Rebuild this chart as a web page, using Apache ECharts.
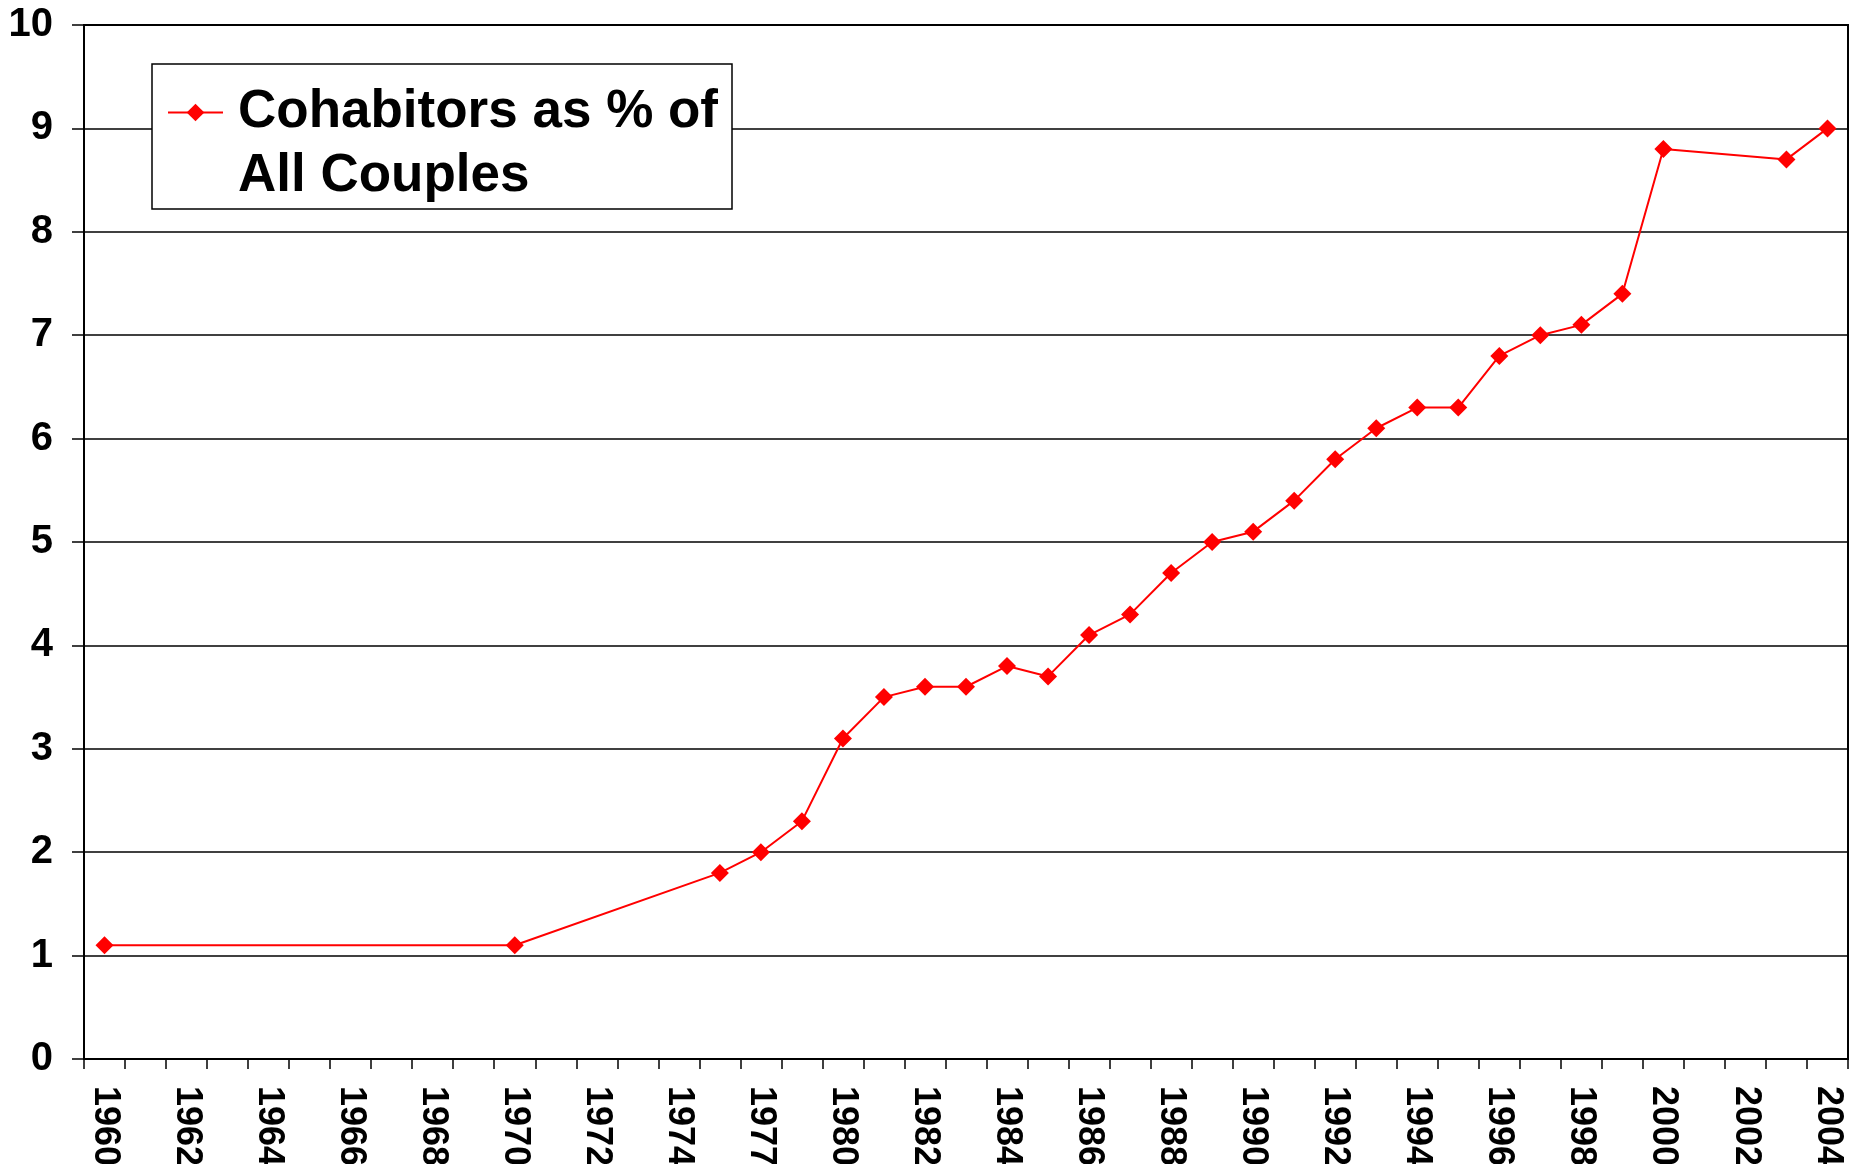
<!DOCTYPE html>
<html>
<head>
<meta charset="utf-8">
<title>Cohabitors as % of All Couples</title>
<script src="https://cdn.jsdelivr.net/npm/echarts@6/dist/echarts.min.js"></script>
<style>
  html, body { margin: 0; padding: 0; background: #fff; }
  #chart { width: 1860px; height: 1164px; }
</style>
</head>
<body>
<div id="chart"></div>
<script>
// categories: every year 1960-1974, then a few gaps in the 70s, then every year to 2004
const years = [
  '1960', '1961', '1962', '1963', '1964', '1965', '1966', '1967', '1968', '1969',
  '1970', '1971', '1972', '1973', '1974', '1976', '1977', '1978', '1980', '1981',
  '1982', '1983', '1984', '1985', '1986', '1987', '1988', '1989', '1990', '1991',
  '1992', '1993', '1994', '1995', '1996', '1997', '1998', '1999', '2000', '2001',
  '2002', '2003', '2004'
]

// percent of couples cohabiting (null = no survey that year)
const cohabitPct = [
  1.1, null, null, null, null, null, null, null, null, null,
  1.1, null, null, null, null, 1.8, 2.0, 2.3, 3.1, 3.5,
  3.6, 3.6, 3.8, 3.7, 4.1, 4.3, 4.7, 5.0, 5.1, 5.4,
  5.8, 6.1, 6.3, 6.3, 6.8, 7.0, 7.1, 7.4, 8.8, null,
  null, 8.7, 9.0
]

const yTicks = [0, 1, 2, 3, 4, 5, 6, 7, 8, 9, 10]
const seriesName = 'Cohabitors as % of All Couples'
const legendLines = ['Cohabitors as % of', 'All Couples']

const fontFamily = '"Liberation Sans", Arial, Helvetica, sans-serif'
const red = '#ff0000'

const chart = echarts.init(document.getElementById('chart'), null, { renderer: 'canvas' })

chart.setOption({
  animation: false,
  backgroundColor: '#fff',
  grid: {
    left: 84,
    right: 12,
    top: 25,
    bottom: 105,
    show: true,
    borderColor: '#000',
    borderWidth: 2,
    outerBoundsMode: 'none',
  },
  legend: {
    left: 152,
    top: 64,
    orient: 'vertical',
    selectedMode: false,
    backgroundColor: '#fff',
    borderColor: '#000',
    borderWidth: 1.5,
    padding: [22, 14, 6, 15],
    itemWidth: 55,
    itemHeight: 22,
    data: [seriesName],
    // rich text + fixed height keeps the icon beside the first line
    formatter: () => legendLines.map((s) => `{t|${s}}`).join('\n'),
    textStyle: {
      height: 64,
      padding: [0, 0, 0, 10],
      rich: {
        t: {
          fontFamily,
          fontSize: 53,
          fontWeight: 'bold',
          color: '#000',
          lineHeight: 64,
        },
      },
    },
  },
  xAxis: {
    type: 'category',
    data: years,
    boundaryGap: true,
    axisLine: { lineStyle: { color: '#000', width: 2 } },
    axisTick: { show: true, interval: 0, length: 10, lineStyle: { color: '#000', width: 1.5 } },
    axisLabel: {
      interval: 1,
      rotate: -90,
      margin: 27,
      fontFamily,
      fontSize: 36,
      fontWeight: 'bold',
      color: '#000',
    },
    splitLine: { show: false },
  },
  yAxis: {
    type: 'value',
    min: yTicks[0],
    max: yTicks[yTicks.length - 1],
    interval: 1,
    axisLine: { show: true, lineStyle: { color: '#000', width: 2 } },
    axisTick: { show: true, length: 12, lineStyle: { color: '#000', width: 1.5 } },
    axisLabel: {
      margin: 31,
      fontFamily,
      fontSize: 40,
      fontWeight: 'bold',
      color: '#000',
    },
    splitLine: { lineStyle: { color: '#000', width: 1.5 } },
  },
  series: [
    {
      type: 'line',
      name: seriesName,
      data: cohabitPct,
      connectNulls: true,
      showAllSymbol: true,
      symbol: 'diamond',
      symbolSize: 18,
      itemStyle: { color: red },
      lineStyle: { color: red, width: 2 },
      emphasis: { disabled: true },
    },
  ],
})

window.addEventListener('resize', () => chart.resize())
</script>
</body>
</html>
